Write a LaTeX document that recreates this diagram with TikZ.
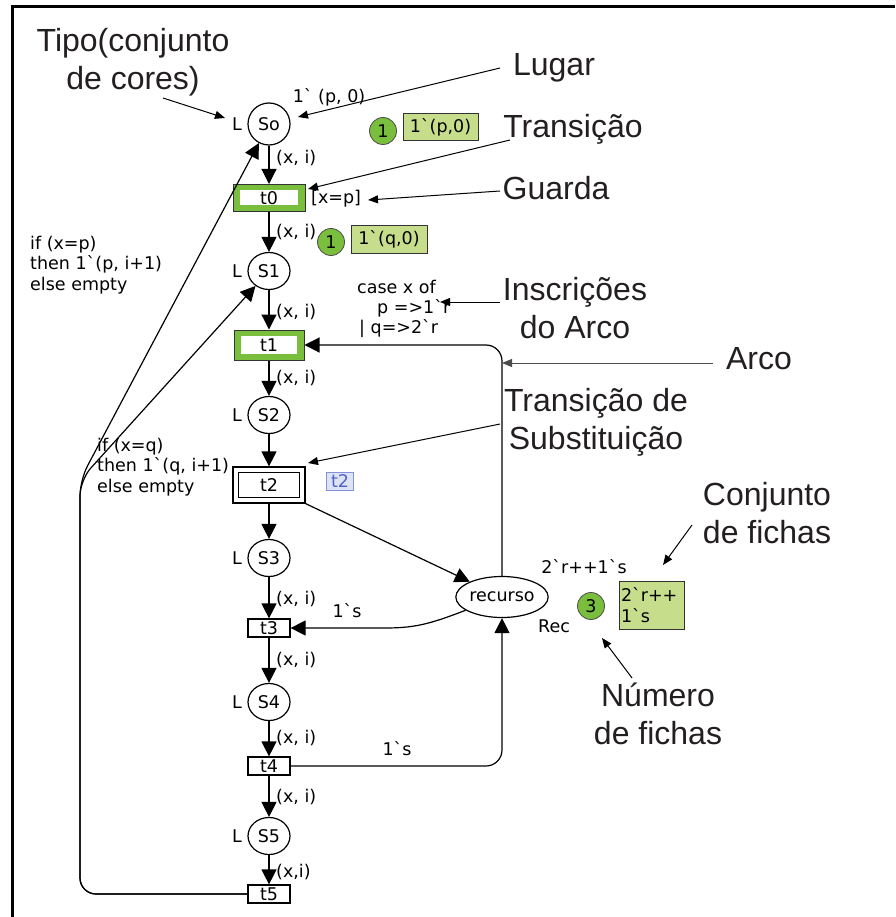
\documentclass[tikz,border=0pt]{standalone}
\usepackage{fontspec}
\newfontfamily\cpn{DejaVu Sans}
\newfontfamily\annofont{Liberation Sans}
\usetikzlibrary{arrows.meta,shapes.geometric}
\definecolor{tokgreen}{RGB}{122,190,62}
\definecolor{boxgreen}{RGB}{198,222,140}
\definecolor{annogray}{RGB}{35,31,32}
\definecolor{subblue}{RGB}{80,100,200}
\definecolor{subfill}{RGB}{222,226,245}
\newcommand\bq{\char96\relax}
\newcommand\cpnsize{\cpn\fontsize{17.5}{20.5}\selectfont}
\begin{document}
\begin{tikzpicture}[x=1pt,y=-1pt,
  every node/.style={font=\cpnsize},
  place/.style={draw, ellipse, minimum width=42pt, minimum height=37pt, inner sep=0pt, line width=1.2pt},
  trans/.style={draw, rectangle, minimum width=42pt, minimum height=18pt, inner sep=0pt, line width=1.2pt},
  gtrans/.style={draw=black!80, fill=tokgreen, minimum width=72pt, minimum height=27pt, inner sep=0pt, line width=1pt,
    path picture={\fill[white] ([xshift=7pt,yshift=6pt]path picture bounding box.south west) rectangle ([xshift=-7pt,yshift=-6pt]path picture bounding box.north east);}},
  arc/.style={line width=1.2pt, -{Triangle[length=15pt,width=15pt]}},
  note/.style={line width=1pt, -{Triangle[length=10pt,width=8pt]}},
  anno/.style={font=\annofont\fontsize{32}{38}\selectfont, text=annogray, align=center, inner sep=0pt},
  lbl/.style={inner sep=0pt},
  token/.style={circle, draw=black!70, fill=tokgreen, minimum size=27pt, inner sep=0pt, line width=0.8pt},
  tokbox/.style={draw=black!80, fill=boxgreen, line width=1pt, inner sep=0pt}
]
\useasboundingbox (0,0) rectangle (895,917);
% frame
\draw[line width=3pt] (12,917) -- (12,7) -- (895,7);

% places
\node[place, minimum height=42pt] (So) at (269,124) {So};
\node[place] (S1) at (269,271) {S1};
\node[place] (S2) at (269,415) {S2};
\node[place] (S3) at (269,558) {S3};
\node[place] (S4) at (269,702) {S4};
\node[place] (S5) at (269,836) {S5};
\node[place, minimum width=90pt, minimum height=41pt] (rec) at (502,597) {recurso};

\foreach \n/\y in {L0/124,L1/271,L2/415,L3/558,L4/702,L5/836}
  \node[lbl] (\n) at (237,\y) {L};

% transitions
\node[gtrans] (t0) at (269,198) {t0};
\node[gtrans, minimum width=70pt, minimum height=30pt] (t1) at (269,345) {t1};
\node[draw, line width=1.2pt, minimum width=72pt, minimum height=36pt, inner sep=0pt] (t2) at (269,485) {t2};
\draw[line width=1.2pt] ([xshift=6pt,yshift=6pt]t2.south west) rectangle ([xshift=-6pt,yshift=-6pt]t2.north east);
\node[trans] (t3) at (269,628) {t3};
\node[trans] (t4) at (269,766) {t4};
\node[trans] (t5) at (269,894) {t5};
\node[draw=subblue!70, fill=subfill, text=subblue, inner sep=1pt, minimum width=27pt, minimum height=18pt] (t2sub) at (340,481) {t2};

% main arcs
\draw[arc] (So) -- (t0);
\draw[arc] (t0) -- (S1);
\draw[arc] (S1) -- (t1);
\draw[arc] (t1) -- (S2);
\draw[arc] (S2) -- (t2);
\draw[arc] (t2) -- (S3);
\draw[arc] (S3) -- (t3);
\draw[arc] (t3) -- (S4);
\draw[arc] (S4) -- (t4);
\draw[arc] (t4) -- (S5);
\draw[arc] (S5) -- (t5);

\draw[arc, rounded corners=16pt] (rec.north) -- (502,345) -- (t1.east);
\draw[arc] (t2.south east) -- (rec);
\draw[arc] (rec.200) .. controls (430,624) and (415,628) .. (385,628) -- (t3.east);
\draw[arc, rounded corners=16pt] (t4.east) -- (502,766) -- (rec.south);
\draw[arc, rounded corners=16pt] (t5.west) -- (80,894) -- (80,480) -- (So);
\draw[arc, rounded corners=16pt] (t5.west) -- (80,894) -- (80,480) -- (S1);

% arc inscriptions
\node[lbl] (m0) at (329,97) {1\bq\ (p, 0)};
\foreach \n/\y in {a1/158,a2/232,a3/312,a4/378,a5/599,a6/660,a7/738,a8/797}
  \node[lbl, anchor=west] (\n) at (276,\y) {(x, i)};
\node[lbl, anchor=west] (a9) at (276,872) {(x,i)};
\node[lbl, anchor=west] (g0) at (311,199) {[x=p]};
\node[lbl, anchor=west] (c1) at (357,287) {case x of};
\node[lbl, anchor=west] (c2) at (377,308) {p =>1\bq r};
\node[lbl, anchor=west] (c3) at (359,329) {| q=>2\bq r};
\node[lbl, anchor=west, align=left] (if1) at (30,265) {if (x=p)\\then 1\bq(p, i+1)\\else empty};
\node[lbl, anchor=west, align=left] (if2) at (97,467) {if (x=q)\\then 1\bq(q, i+1)\\else empty};
\node[lbl] (s1) at (347,611) {1\bq s};
\node[lbl] (s2) at (397,749) {1\bq s};
\node[lbl] (rm) at (584,567) {2\bq r++1\bq s};
\node[lbl] (rc) at (554,626) {Rec};

% tokens
\node[token] (k0) at (383,131) {1};
\node[tokbox, minimum width=75pt, minimum height=27pt] (b0) at (440.5,127.5) {1\bq(p,0)};
\node[token] (k1) at (331,242) {1};
\node[tokbox, minimum width=76pt, minimum height=27pt] (b1) at (389,239.5) {1\bq(q,0)};
\node[token] (k3) at (591,606) {3};
\node[tokbox, minimum width=65pt, minimum height=48pt, align=left, text width=61pt] (b3) at (651.5,605) {2\bq r++\\1\bq s};

% annotations
\node[anno] (n1) at (133,62) {Tipo(conjunto\\de cores)};
\node[anno] (n2) at (554,68) {Lugar};
\node[anno] (n3) at (573,129) {Transição};
\node[anno] (n4) at (556,188) {Guarda};
\node[anno] (n5) at (575,308) {Inscrições\\do Arco};
\node[anno] (n6) at (759,359) {Arco};
\node[anno] (n7) at (596,422) {Transição de\\Substituição};
\node[anno] (n8) at (767,513) {Conjunto\\de fichas};
\node[anno] (n9) at (658,714) {Número\\de fichas};

\coordinate (e1) at (225,118); \coordinate (f1) at (163,98);
\coordinate (e2) at (298,117); \coordinate (f2) at (500,68);
\coordinate (e3) at (308,189); \coordinate (f3) at (510,140);
\coordinate (e4) at (368,200); \coordinate (f4) at (500,191);
\coordinate (e5) at (440,302); \coordinate (f5) at (500,302);
\coordinate (e6) at (502,363); \coordinate (f6) at (713,363);
\coordinate (e7) at (308,463); \coordinate (f7) at (500,424);
\coordinate (e8) at (663,565); \coordinate (f8) at (692,525);
\coordinate (e9) at (602,638); \coordinate (f9) at (632,678);
\draw[note] (f1) -- (e1);
\draw[note] (f2) -- (e2);
\draw[note] (f3) -- (e3);
\draw[note] (f4) -- (e4);
\draw[note] (f5) -- (e5);
\draw[note, draw=black!70, fill=black!70] (f6) -- (e6);
\draw[note] (f7) -- (e7);
\draw[note] (f8) -- (e8);
\draw[note] (f9) -- (e9);
\end{tikzpicture}
\end{document}
